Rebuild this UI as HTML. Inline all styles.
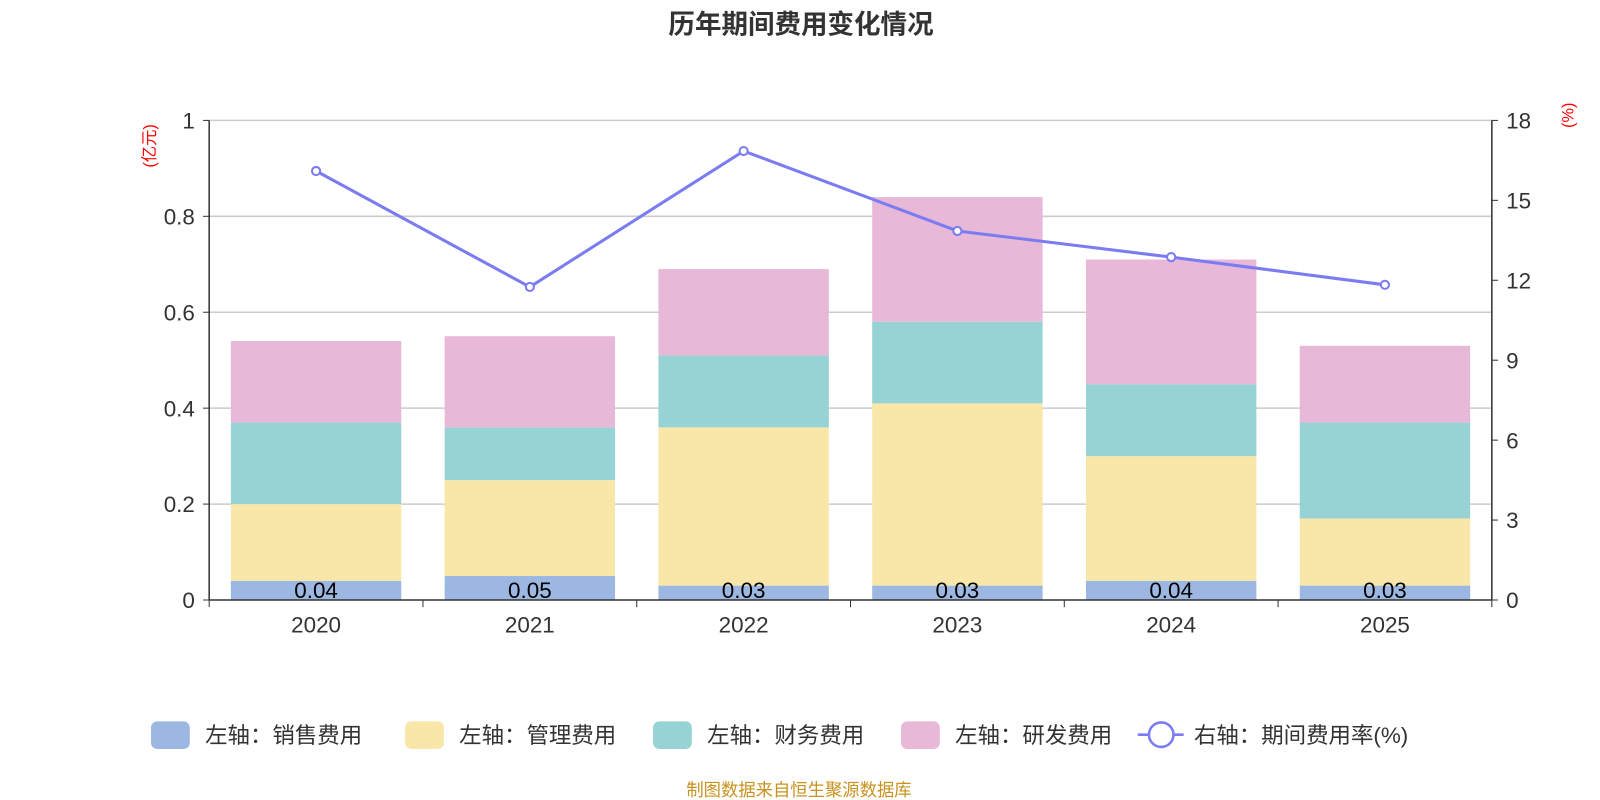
<!DOCTYPE html>
<html><head><meta charset="utf-8"><style>
body{margin:0;background:#fff;}
svg{display:block;}
svg text{font-family:"Liberation Sans","Noto Sans CJK SC",sans-serif;}
</style></head><body>
<svg id="c" width="1600" height="800" viewBox="0 0 1568 784" xmlns="http://www.w3.org/2000/svg">
<text x="785" y="33" text-anchor="middle" font-size="26" font-weight="bold" fill="#333">历年期间费用变化情况</text>
<text transform="translate(152,143) rotate(-90)" text-anchor="middle" font-size="16" fill="#f00">(亿元)</text>
<text transform="translate(1542,113) rotate(-90)" text-anchor="middle" font-size="16" fill="#f00">(%)</text>
<g id="grid"></g><g id="bars"></g><g id="axes"></g><g id="line"></g>
<g id="legend" font-size="22" fill="#333"></g>
<text x="783" y="780" text-anchor="middle" font-size="17" fill="#c8921e">制图数据来自恒生聚源数据库</text>
</svg>
<script>
const categories=["2020","2021","2022","2023","2024","2025"];
const sales=[0.04,0.05,0.03,0.03,0.04,0.03];
const mgmt=[0.16,0.20,0.33,0.38,0.26,0.14];
const fin=[0.17,0.11,0.15,0.17,0.15,0.20];
const rd=[0.17,0.19,0.18,0.26,0.26,0.16];
const rate=[16.1,11.75,16.85,13.85,12.87,11.83];
const leftTicks=["0","0.2","0.4","0.6","0.8","1"];
const rightTicks=["0","3","6","9","12","15","18"];
const NS="http://www.w3.org/2000/svg";
const X0=205,X1=1462,Y0=588,Y1=118;
const yL=v=>Y0-(v/1)*(Y0-Y1);
const yR=v=>Y0-(v/18)*(Y0-Y1);
const bw=(X1-X0)/categories.length;
const xc=i=>X0+bw*(i+0.5);
function mk(t,a,p){const e=document.createElementNS(NS,t);for(const k in a)e.setAttribute(k,a[k]);p.appendChild(e);return e;}
const g=document.getElementById('grid'),b=document.getElementById('bars'),ax=document.getElementById('axes'),ln=document.getElementById('line'),lg=document.getElementById('legend');
leftTicks.forEach((t,i)=>{const v=parseFloat(t),y=yL(v);
 if(v>0){const l=mk('line',{x1:X0,x2:X1,y1:y,y2:y,stroke:'#ccc','stroke-width':1.5},g);}
 const tx=mk('text',{x:X0-14,y:y+8,'text-anchor':'end','font-size':22,fill:'#333'},ax);tx.textContent=t;
 
 mk('line',{x1:X0-6,x2:X0,y1:y,y2:y,stroke:'#333'},ax);});
rightTicks.forEach(t=>{const y=yR(parseFloat(t));
 const tx=mk('text',{x:X1+14,y:y+8,'font-size':22,fill:'#333'},ax);tx.textContent=t;
 
 mk('line',{x1:X1,x2:X1+6,y1:y,y2:y,stroke:'#333'},ax);});
mk('line',{x1:X0,x2:X0,y1:Y1,y2:Y0,stroke:'#333','stroke-width':1.5},ax);
mk('line',{x1:X1,x2:X1,y1:Y1,y2:Y0,stroke:'#333','stroke-width':1.5},ax);
mk('line',{x1:X0,x2:X1,y1:Y0,y2:Y0,stroke:'#333','stroke-width':1.5},ax);
for(let i=0;i<=categories.length;i++){mk('line',{x1:X0+bw*i,x2:X0+bw*i,y1:Y0,y2:Y0+7,stroke:'#333'},ax);}
const series=[[sales,'#9cb8e2','sales'],[mgmt,'#f8e7a8','mgmt'],[fin,'#97d3d4','finance'],[rd,'#e7b8d8','rd']];
categories.forEach((c,i)=>{let base=0;const w=167;
 series.forEach(([arr,col,nm])=>{const y0=yL(base),y1=yL(base+arr[i]);
  const r=mk('rect',{x:xc(i)-w/2,y:y1,width:w,height:y0-y1,fill:col},b);
  base+=arr[i];});
 const lb=mk('text',{x:xc(i),y:Y0-2,'text-anchor':'middle','font-size':22,fill:'#000'},b);lb.textContent=sales[i].toFixed(2);
 
 const xl=mk('text',{x:xc(i),y:Y0+32,'text-anchor':'middle','font-size':22,fill:'#333'},ax);xl.textContent=c;
 });
const pl=mk('polyline',{points:rate.map((v,i)=>xc(i)+','+yR(v)).join(' '),fill:'none',stroke:'#7b7bf2','stroke-width':3},ln);

rate.forEach((v,i)=>{const p=mk('circle',{cx:xc(i),cy:yR(v),r:4,fill:'#fff',stroke:'#7b7bf2','stroke-width':2},ln);
 });
const items=[[143,'#9cb8e2','左轴：销售费用'],[392,'#f8e7a8','左轴：管理费用'],[635,'#97d3d4','左轴：财务费用'],[878,'#e7b8d8','左轴：研发费用']];
items.forEach(([x,col,t])=>{const r=mk('rect',{x:x+5,y:707,width:38,height:27,rx:6,fill:col},lg);
 
 const tx=mk('text',{x:x+58,y:728},lg);tx.textContent=t;});
mk('line',{x1:1115,x2:1160,y1:720,y2:720,stroke:'#7b7bf2','stroke-width':2.5},lg);
const lc=mk('circle',{cx:1138,cy:720,r:12,fill:'#fff',stroke:'#7b7bf2','stroke-width':2.5},lg);

const lt=mk('text',{x:1170,y:728},lg);lt.textContent='右轴：期间费用率(%)';

</script>
</body></html>
